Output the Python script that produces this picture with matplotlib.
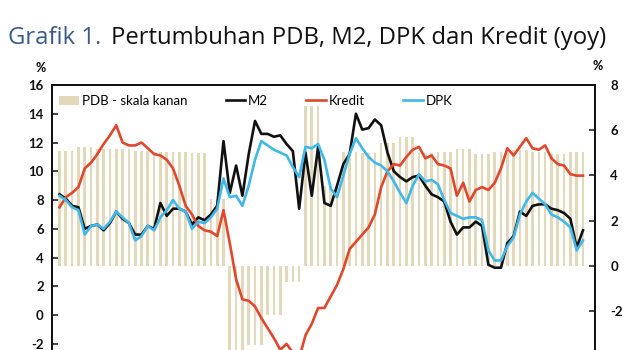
import matplotlib
matplotlib.use("Agg")
import matplotlib.pyplot as plt
from matplotlib.patches import Patch
from matplotlib.lines import Line2D
import numpy as np

plt.rcParams["axes.unicode_minus"] = False

# Monthly series, Jan 2018 - Dec 2024 (% yoy, left axis)
m2 = [8.4, 8.1, 7.6, 7.5, 6.0, 6.2, 6.3, 5.9, 6.4, 7.2, 6.7, 6.4,
      5.6, 5.6, 6.2, 6.0, 7.8, 6.9, 7.4, 7.4, 7.2, 6.3, 6.8, 6.6,
      7.0, 7.6, 12.1, 8.5, 10.4, 8.3, 11.2, 13.5, 12.6, 12.6, 12.4, 12.5,
      11.9, 11.4, 7.4, 11.3, 8.3, 11.7, 7.8, 7.6, 9.0, 10.5, 11.2, 14.0,
      12.9, 13.0, 13.6, 13.2, 11.3, 10.0, 9.6, 9.3, 9.6, 9.7, 9.0, 8.4,
      8.2, 7.9, 6.5, 5.6, 6.1, 6.1, 6.5, 6.2, 3.5, 3.3, 3.3, 5.0,
      5.5, 7.2, 6.9, 7.6, 7.7, 7.7, 7.4, 7.3, 7.1, 6.7, 4.7, 5.9]

kredit = [7.5, 8.2, 8.5, 8.9, 10.2, 10.6, 11.2, 11.9, 12.5, 13.2, 12.0, 11.8,
          11.8, 12.0, 11.6, 11.2, 11.1, 10.8, 10.2, 9.0, 7.6, 7.0, 6.2, 5.9,
          5.8, 5.5, 7.3, 5.0, 2.5, 1.1, 1.0, 0.6, -0.2, -0.9, -1.6, -2.4,
          -2.0, -2.6, -3.0, -1.4, -0.6, 0.5, 0.5, 1.3, 2.1, 3.2, 4.6, 5.1,
          5.6, 6.1, 7.0, 8.9, 10.0, 10.5, 10.4, 11.0, 11.5, 11.7, 10.9, 11.1,
          10.5, 10.4, 10.2, 8.3, 9.2, 7.9, 8.7, 8.9, 8.7, 9.2, 10.2, 11.6,
          11.1, 11.7, 12.3, 11.6, 11.5, 11.8, 10.9, 10.5, 10.4, 9.8, 9.7, 9.7]

dpk = [8.3, 8.0, 7.5, 7.3, 5.6, 6.2, 6.3, 6.0, 6.5, 7.2, 6.8, 6.4,
       5.2, 5.5, 6.2, 5.9, 6.8, 7.3, 8.0, 7.4, 7.2, 6.0, 6.5, 6.4,
       6.8, 7.4, 9.5, 8.2, 8.3, 7.6, 9.0, 10.8, 12.1, 11.8, 11.5, 11.3,
       11.1, 10.3, 9.6, 11.7, 11.6, 11.9, 10.8, 8.8, 8.2, 9.7, 11.2, 12.3,
       11.6, 11.0, 10.6, 10.4, 10.0, 9.3, 8.5, 7.8, 9.0, 9.8, 9.3, 9.4,
       9.1, 8.0, 7.1, 6.9, 6.7, 6.8, 6.8, 6.6, 4.5, 3.8, 3.8, 4.8,
       5.4, 7.0, 7.9, 8.5, 8.1, 7.7, 7.0, 6.8, 6.5, 6.1, 4.5, 5.2]

# Quarterly GDP growth, Q1 2018 - Q4 2024 (% yoy, right axis)
pdb_q = [5.06, 5.27, 5.17, 5.18, 5.07, 5.05, 5.02, 4.97,
         2.97, -5.32, -3.49, -2.19, -0.70, 7.07, 3.51, 5.02,
         5.01, 5.44, 5.72, 5.01, 5.03, 5.17, 4.94, 5.04,
         5.11, 5.05, 4.95, 5.02]

labels = ["PDB - skala kanan", "M2", "Kredit", "DPK"]
left_ticks = list(range(-2, 17, 2))
right_ticks = list(range(-2, 9, 2))

pdb_m = np.repeat(pdb_q, 3)
x = np.arange(len(m2))

C_BAR = "#e3d8ba"
C_M2 = "#111111"
C_KR = "#e0472c"
C_DPK = "#3fb8ea"

fig = plt.figure(figsize=(6.4, 3.5), dpi=100)
ax = fig.add_axes([0.08125, -0.1471, 0.8484, 0.9043])
ax2 = ax.twinx()

ax2.bar(np.arange(len(pdb_m)), pdb_m, width=0.42, color=C_BAR, linewidth=0)
ax.set_zorder(ax2.get_zorder() + 1)
ax.patch.set_visible(False)

ax.plot(x, m2, color=C_M2, lw=1.9)
ax.plot(x, kredit, color=C_KR, lw=1.9)
ax.plot(x, dpk, color=C_DPK, lw=1.9)

ax.set_xlim(-1.19, 84.9)
ax.set_ylim(-6, 16)
ax2.set_ylim(-6, 8)
ax.set_yticks(left_ticks)
ax2.set_yticks(right_ticks)
ax.set_xticks([])

for a, pad in ((ax, 6), (ax2, 11)):
    a.tick_params(axis="y", direction="in", length=4, width=1.1, pad=pad,
                  labelsize=9.5, colors="#111111")
    for lab in a.get_yticklabels():
        lab.set_fontfamily("Lato")
        lab.set_fontweight("bold")
    for s in a.spines.values():
        s.set_linewidth(1.3)
        s.set_color("#111111")

handles = [Patch(facecolor=C_BAR, edgecolor="none"),
           Line2D([], [], color=C_M2, lw=1.9),
           Line2D([], [], color=C_KR, lw=1.9),
           Line2D([], [], color=C_DPK, lw=1.9)]
leg = ax.legend(handles, labels, loc="upper left", bbox_to_anchor=(0.004, 0.985),
                ncol=4, frameon=False, handlelength=1.5, handletextpad=0.2,
                columnspacing=2.9, borderaxespad=0,
                prop={"family": "Lato", "size": 9.5})

fig.text(41 / 640, 1 - 68 / 350, "%", ha="center", va="center",
         family="Lato", fontsize=9, fontweight="bold")
fig.text(598 / 640, 1 - 66 / 350, "%", ha="center", va="center",
         family="Lato", fontsize=9, fontweight="bold")

t1 = fig.text(8 / 640, 1 - 38 / 350, "Grafik 1.", ha="left", va="center",
              family="Open Sans", fontsize=17.2, color="#3b5a8c")
fig.canvas.draw()
bb = t1.get_window_extent(renderer=fig.canvas.get_renderer())
fig.text((bb.x1 + 10) / 640, 1 - 38 / 350, "Pertumbuhan PDB, M2, DPK dan Kredit (yoy)",
         ha="left", va="center", family="Open Sans", fontsize=17.2, color="#111111")

fig.savefig("out.png", dpi=100)
